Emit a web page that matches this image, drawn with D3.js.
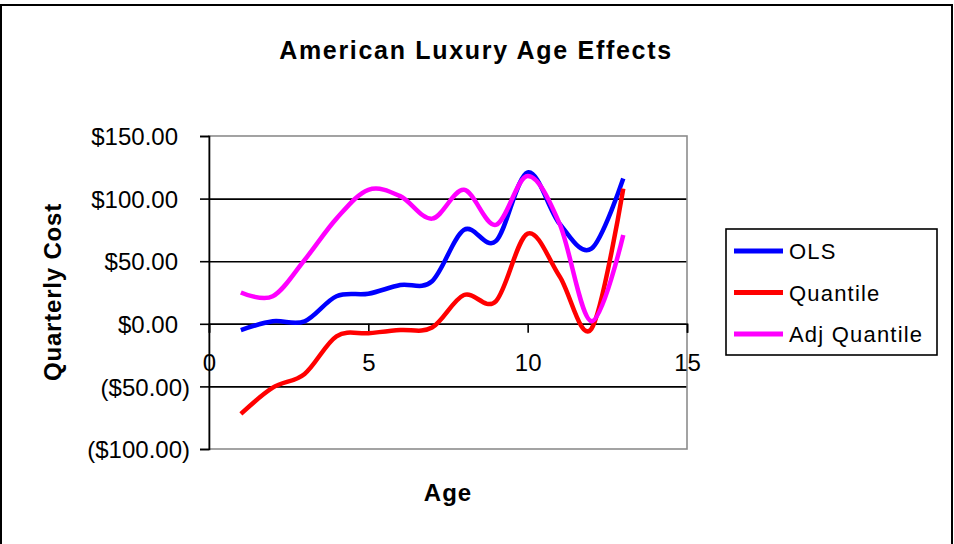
<html>
<meta charset="utf-8" />
<head>
<title>American Luxury Age Effects</title>
<script src="https://cdn.jsdelivr.net/npm/d3@7"></script>
<style>
	body { margin: 0; background: white; }
	svg text { font-family: Arial, "Liberation Sans", sans-serif; fill: black; }
</style>
<script>
// data
const ages = [1, 2, 3, 4, 5, 6, 7, 8, 9, 10, 11, 12, 13];
const olsValues = [-5, 2, 2, 22, 24, 31, 34, 75, 66, 121, 80, 60, 116];
const quantileValues = [-72, -51, -40, -10, -7.5, -5, -3, 23, 18, 72, 38, -4, 108];
const adjQuantileValues = [25, 22, 51, 84, 107, 102, 84, 107, 79, 118, 80, 2, 71];
const seriesNames = ['OLS', 'Quantile', 'Adj Quantile'];
const seriesColors = ['#0000ff', '#ff0000', '#ff00ff'];
const yTicks = [-100, -50, 0, 50, 100, 150];
const xTicks = [0, 5, 10, 15];

window.onload = function() {
	let svg = d3.select('svg');

	// outer frame
	svg.append('rect')
	.attr('x', 1).attr('y', 5)
	.attr('width', 951).attr('height', 600)
	.attr('fill', 'white')
	.attr('stroke', 'black')
	.attr('stroke-width', 2);

	let left = 209, right = 687, top = 136, bottom = 449;

	let xScale = d3.scaleLinear().domain([0, 15]).range([left, right]);
	let yScale = d3.scaleLinear().domain([-100, 150]).range([bottom, top]);

	// gridlines (top/bottom ones are the plot border)
	let grid = d3.axisLeft(yScale)
	.tickValues(yTicks.filter((d) => d > -100 && d < 150))
	.tickSize(-(right - left)).tickFormat('');
	let gridG = svg.append('g').attr('transform', 'translate(' + left + ',0)').call(grid);
	gridG.select('.domain').remove();
	gridG.selectAll('line').attr('stroke', 'black').attr('stroke-width', 1.6);

	// plot border
	svg.append('rect')
	.attr('x', left).attr('y', top)
	.attr('width', right - left).attr('height', bottom - top)
	.attr('fill', 'none')
	.attr('stroke', '#8c8c8c')
	.attr('stroke-width', 1.6);

	// y axis
	let money = (d) => d < 0 ? '($' + d3.format(',.2f')(-d) + ')' : '$' + d3.format(',.2f')(d);
	let yAxis = d3.axisLeft(yScale).tickValues(yTicks).tickSize(9).tickPadding(0).tickFormat(money);
	let yG = svg.append('g').attr('transform', 'translate(' + left + ',0)').call(yAxis);
	yG.select('.domain').attr('stroke', 'black').attr('stroke-width', 1.6);
	yG.selectAll('line').attr('stroke', 'black').attr('stroke-width', 1.6);
	yG.selectAll('text')
	.style('font-size', '24px')
	.attr('x', (d) => d < 0 ? -19 : -31)
	.attr('dy', '0.36em');

	// x axis through zero
	let xAxis = d3.axisBottom(xScale).tickValues(xTicks).tickSize(9);
	let xG = svg.append('g').attr('transform', 'translate(0,' + yScale(0) + ')').call(xAxis);
	xG.select('.domain').attr('stroke', 'black').attr('stroke-width', 1.6);
	xG.selectAll('line').attr('stroke', 'black').attr('stroke-width', 1.6);
	xG.selectAll('text')
	.style('font-size', '24px')
	.attr('y', 47).attr('dy', 0);

	// smoothed lines
	let allSeries = [olsValues, quantileValues, adjQuantileValues];
	let line = d3.line()
	.x((d, i) => xScale(ages[i]))
	.y((d) => yScale(d))
	.curve(d3.curveCardinal);

	allSeries.forEach((values, i) => {
		svg.append('path')
		.attr('d', line(values))
		.attr('fill', 'none')
		.attr('stroke', seriesColors[i])
		.attr('stroke-width', 4.5)
		.attr('stroke-linejoin', 'round');
	});

	// titles
	svg.append('text')
	.attr('x', 476).attr('y', 59)
	.attr('text-anchor', 'middle')
	.style('font-size', '25px').style('font-weight', 'bold')
	.style('letter-spacing', '1.7px')
	.text('American Luxury Age Effects');

	svg.append('text')
	.attr('transform', 'translate(61,292) rotate(-90)')
	.attr('text-anchor', 'middle')
	.style('font-size', '24px').style('font-weight', 'bold')
	.style('letter-spacing', '0.8px')
	.text('Quarterly Cost');

	svg.append('text')
	.attr('x', 448).attr('y', 501)
	.attr('text-anchor', 'middle')
	.style('font-size', '24px').style('font-weight', 'bold')
	.style('letter-spacing', '1px')
	.text('Age');

	// legend
	let legend = svg.append('g');
	legend.append('rect')
	.attr('x', 726).attr('y', 229)
	.attr('width', 211).attr('height', 126)
	.attr('fill', 'white')
	.attr('stroke', 'black')
	.attr('stroke-width', 1.6);

	let items = legend.selectAll('g.item')
	.data(seriesNames).enter()
	.append('g')
	.attr('class', 'item')
	.attr('transform', (d, i) => 'translate(0,' + (251 + i * 41.5) + ')');

	items.append('line')
	.attr('x1', 734).attr('x2', 783)
	.attr('stroke', (d, i) => seriesColors[i])
	.attr('stroke-width', 5);

	items.append('text')
	.attr('x', 789).attr('y', 8)
	.style('font-size', '22px')
	.style('letter-spacing', '1.2px')
	.text((d) => d);
}
</script>
</head>
<body>
<svg width="954" height="544"></svg>
</body>
</html>
